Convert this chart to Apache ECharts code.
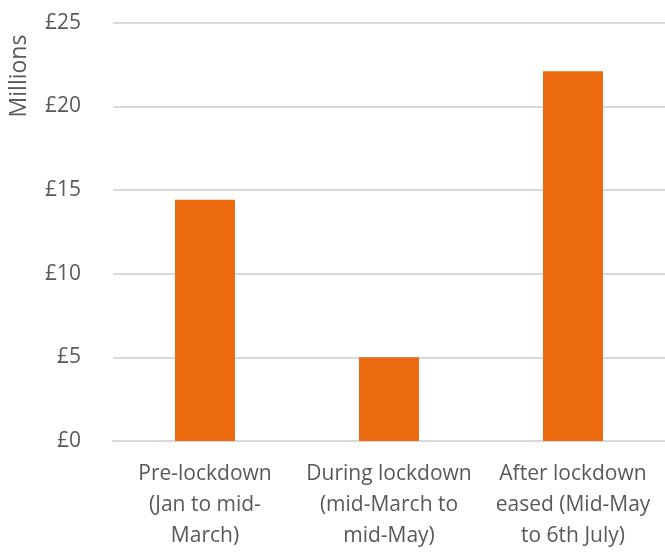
<!DOCTYPE html>
<html>
<head>
<meta charset="utf-8">
<script src="https://cdn.jsdelivr.net/npm/echarts@6/dist/echarts.min.js"></script>
<style>
html,body{margin:0;padding:0;background:#fff;}
#chart{width:665px;height:552px;}
</style>
</head>
<body>
<div id="chart"></div>
<script>
const categories = [
  "Pre-lockdown\n(Jan to mid-\nMarch)",
  "During lockdown\n(mid-March to\nmid-May)",
  "After lockdown\neased (Mid-May\nto 6th July)"
];
const values = [14.42, 5.0, 22.1];
const yTicks = [0, 5, 10, 15, 20, 25];
const yAxisTitle = "Millions";

const FONT = "'Open Sans', 'Noto Sans', sans-serif";
const chart = echarts.init(document.getElementById('chart'), null, {renderer: 'canvas'});
chart.setOption({
  animation: false,
  backgroundColor: '#ffffff',
  grid: {left: 113, top: 22.7, width: 558, height: 419, containLabel: false},
  xAxis: {
    type: 'category',
    data: categories,
    axisLine: {show: true, lineStyle: {color: '#d9d9d9', width: 2}},
    axisTick: {show: false},
    axisLabel: {
      color: '#595959', fontFamily: FONT, fontSize: 21, lineHeight: 31,
      margin: 18, interval: 0
    }
  },
  yAxis: {
    type: 'value',
    min: yTicks[0], max: yTicks[yTicks.length - 1], interval: 5,
    axisLine: {show: false},
    axisTick: {show: false},
    splitLine: {lineStyle: {color: '#d9d9d9', width: 2}},
    axisLabel: {
      color: '#595959', fontFamily: FONT, fontSize: 21, margin: 32,
      formatter: v => '£' + v
    }
  },
  graphic: [{
    type: 'text',
    x: 19, y: 76,
    rotation: Math.PI / 2,
    style: {
      text: yAxisTitle, fill: '#595959', font: "23px " + FONT,
      align: 'center', verticalAlign: 'middle'
    }
  }],
  series: [{
    type: 'bar',
    data: values,
    barWidth: 60,
    itemStyle: {color: '#ec6a10'}
  }]
});
</script>
</body>
</html>
